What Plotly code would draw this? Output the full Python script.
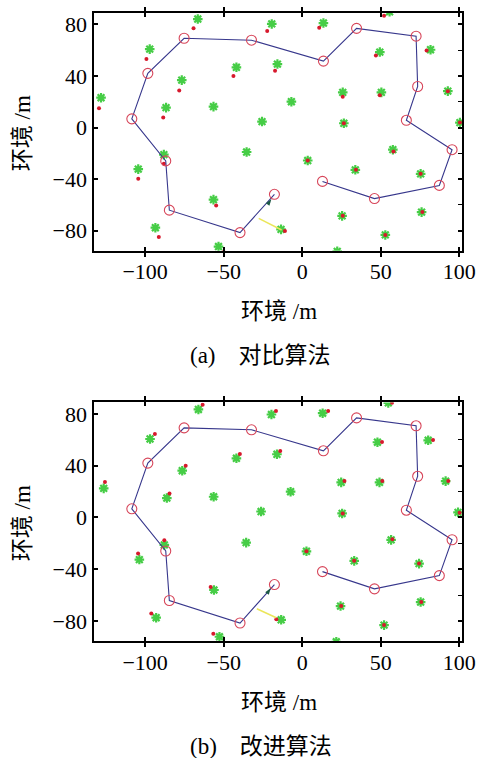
import plotly.graph_objects as go

W, H = 491, 758

# ---------------- data ----------------
route_x = [-17.7, -39.6, -84.6, -86.9, -108.5, -98.3, -75.2, -32.3, 13.5, 34.6, 72.5, 73.5, 66.3, 95.4, 87.3, 46.0, 12.9]
route_y = [-51.8, -81.5, -64.1, -25.9, 6.7, 42.0, 69.2, 67.7, 51.5, 76.9, 70.8, 31.8, 5.6, -17.2, -44.9, -55.1, -41.8]

a_green_x = [-66.5, -19.4, 13.5, 55.6, -97.1, 49.4, 81.7, -41.9, -15.8, -76.7, -128.1, 25.8, 50.4, 92.7, -86.7, -56.5, -6.9, -25.6,
             26.5, 100.4, -88.1, -35.4, 3.5, 57.7, -104.4, 33.8, 75.4, -56.5, -13.5, 25.4, 76.0, -93.5, -53.3, 52.9, 22.3]
a_green_y = [84.1, 80.3, 81.0, 89.7, 60.8, 58.5, 60.3, 46.7, 49.2, 36.7, 23.1, 27.2, 27.2, 28.2, 15.4, 16.2, 20.0, 4.6,
             3.3, 3.8, -21.0, -19.0, -25.6, -17.2, -32.3, -32.8, -35.9, -55.9, -79.0, -68.5, -65.6, -77.7, -92.3, -83.3, -96.0]
a_red_x = [-69.2, -22.3, 10.8, 52.1, -99.2, 46.9, 79.2, -43.8, -17.3, -78.3, -129.4, 25.8, 49.4, 92.7, -88.5, 26.5, 100.4,
           -88.1, -104.4, 3.5, 58.1, 34.2, 75.4, -54.8, -11.0, 25.8, 76.5, -91.3, 52.9, -50.0]
a_red_y = [76.9, 74.9, 77.4, 86.7, 53.1, 55.9, 59.7, 40.0, 44.1, 28.7, 14.9, 23.8, 25.1, 28.2, 7.7, 3.3, 3.8,
           -28.2, -39.7, -25.6, -18.7, -32.8, -35.9, -60.5, -80.3, -68.5, -65.6, -84.9, -83.3, -96.5]

b_green_x = [-66.1, -19.6, 13.0, 54.8, -96.9, 47.9, 80.2, -41.9, -16.1, -76.4, -126.4, 24.8, 49.2, 91.3, -86.2, -56.4, -7.4, -26.2,
             25.4, 99.2, -87.8, -35.7, 2.7, 56.6, -103.7, 33.1, 74.4, -56.2, -13.4, 24.4, 75.4, -93.0, -52.7, 52.1, 21.7]
b_green_y = [83.4, 79.5, 80.5, 88.5, 60.6, 58.1, 59.6, 45.7, 48.8, 36.1, 22.5, 27.1, 27.1, 28.1, 15.0, 16.0, 19.9, 4.6,
             3.1, 3.9, -21.2, -19.4, -26.1, -17.3, -32.5, -33.5, -35.6, -56.0, -79.0, -68.4, -65.3, -77.4, -92.1, -83.1, -96.0]
b_red_x = [-63.4, -16.7, 16.5, 57.2, -93.8, 50.8, 83.3, -39.7, -14.0, -74.2, -125.6, 26.9, 51.0, 93.0, -84.5, 25.8, 100.2,
           -87.8, -104.5, 2.7, 57.4, 33.1, 74.4, -58.3, -16.5, 24.8, 75.8, -96.1, 52.1, -56.6]
b_red_y = [87.0, 82.3, 82.3, 88.5, 64.5, 58.3, 59.9, 49.0, 51.4, 40.0, 27.4, 28.1, 28.1, 28.1, 18.6, 3.1, 3.6,
           -17.5, -27.9, -26.1, -16.8, -33.5, -35.6, -53.7, -78.5, -68.4, -65.3, -74.1, -83.1, -89.8]

a_yellow_x = [-27.7, -13.1]
a_yellow_y = [-70.5, -79.5]
b_yellow_x = [-28.9, -16.5]
b_yellow_y = [-70.5, -77.4]
a_arrow = (-19.6, -55.5)
b_arrow = (-20.0, -54.5)

x_ticks = [-100, -50, 0, 50, 100]
y_ticks = [-80, -40, 0, 40, 80]
x_range = [-132.3, 102.0]
y_range = [-95.5, 88.8]

axis_title = "环境 /m"
captions = ["(a)&nbsp;&nbsp;&nbsp;&nbsp;对比算法", "(b)&nbsp;&nbsp;&nbsp;&nbsp;改进算法"]

# ---------------- styling ----------------
GREEN = "rgb(70,205,70)"
RED = "rgb(215,25,45)"
NAVY = "rgb(55,55,140)"
CIRC = "rgb(215,70,90)"
NUMFONT = "Liberation Serif"
TXTFONT = "Liberation Serif, Noto Sans CJK SC"

# pixel geometry in page coordinates
L, R = 97, 475
panels = [(12, 250), (402, 641)]


def fx(px):
    return px / W


def fy(py):
    return 1 - py / H


fig = go.Figure()

panel_data = [
    (a_green_x, a_green_y, a_red_x, a_red_y, a_yellow_x, a_yellow_y, a_arrow),
    (b_green_x, b_green_y, b_red_x, b_red_y, b_yellow_x, b_yellow_y, b_arrow),
]

for i, (gx, gy, rx, ry, yx, yy, arr) in enumerate(panel_data):
    xa = "x" if i == 0 else "x2"
    ya = "y" if i == 0 else "y2"
    fig.add_trace(go.Scatter(x=gx, y=gy, mode="markers", xaxis=xa, yaxis=ya,
                             marker=dict(symbol="asterisk-open", size=8, color=GREEN,
                                         line=dict(color=GREEN, width=2.2)),
                             showlegend=False))
    fig.add_trace(go.Scatter(x=rx, y=ry, mode="markers", xaxis=xa, yaxis=ya,
                             marker=dict(symbol="circle", size=4, color=RED),
                             showlegend=False))
    fig.add_trace(go.Scatter(x=yx, y=yy, mode="lines", xaxis=xa, yaxis=ya,
                             line=dict(color="rgb(235,230,90)", width=1.5), showlegend=False))
    fig.add_trace(go.Scatter(x=route_x, y=route_y, mode="lines+markers", xaxis=xa, yaxis=ya,
                             line=dict(color=NAVY, width=1.1),
                             marker=dict(symbol="circle-open", size=10, color=CIRC,
                                         line=dict(color=CIRC, width=1.1)),
                             showlegend=False))
    fig.add_trace(go.Scatter(x=[arr[0]], y=[arr[1]], mode="markers", xaxis=xa, yaxis=ya,
                             marker=dict(symbol="arrow", size=7, angle=35, color="rgb(30,90,70)"),
                             showlegend=False))
    fig.add_trace(go.Scatter(x=[0], y=[0], mode="markers", xaxis=xa,
                             yaxis="y3" if i == 0 else "y4",
                             marker=dict(opacity=0), showlegend=False, hoverinfo="skip"))

common_x = dict(range=x_range, tickvals=x_ticks, ticks="inside", ticklen=4, tickwidth=1.5,
                tickcolor="black", showline=True, linecolor="black", linewidth=2,
                mirror="allticks", showgrid=False, zeroline=False,
                tickfont=dict(family=NUMFONT, size=22, color="black"),
                ticklabelstandoff=0)
common_y = dict(range=y_range, tickvals=y_ticks, ticks="inside", ticklen=4, tickwidth=1.5,
                tickcolor="black", showline=True, linecolor="black", linewidth=2,
                mirror="ticks", showgrid=False, zeroline=False,
                tickfont=dict(family=NUMFONT, size=22, color="black"),
                ticklabelstandoff=1)

xdom = [fx(L), fx(R)]
(t1, b1), (t2, b2) = panels
ydom1 = [fy(b1), fy(t1)]
ydom2 = [fy(b2), fy(t2)]

minor_y = dict(range=y_range, dtick=20, tick0=0, ticks="inside", ticklen=4, tickwidth=1.2,
               tickcolor="black", showticklabels=False, showgrid=False, zeroline=False,
               side="right", showline=False)

fig.update_layout(
    width=W, height=H, autosize=False,
    margin=dict(l=0, r=0, t=0, b=0),
    paper_bgcolor="white", plot_bgcolor="white",
    xaxis=dict(domain=xdom, anchor="y", **common_x),
    yaxis=dict(domain=ydom1, anchor="x", **common_y),
    xaxis2=dict(domain=xdom, anchor="y2", **common_x),
    yaxis2=dict(domain=ydom2, anchor="x2", **common_y),
    yaxis3=dict(overlaying="y", anchor="x", **minor_y),
    yaxis4=dict(overlaying="y2", anchor="x2", **minor_y),
)

ann = []
for i, (top, bot) in enumerate(panels):
    mid = (top + bot) / 2
    ann.append(dict(text=axis_title, x=fx(23), y=fy(mid + 1), xref="paper", yref="paper",
                    textangle=-90, showarrow=False, xanchor="center", yanchor="middle",
                    font=dict(family=TXTFONT, size=23, color="black")))
    ann.append(dict(text=axis_title, x=fx(287), y=fy(bot + 61), xref="paper", yref="paper",
                    showarrow=False, xanchor="center", yanchor="middle",
                    font=dict(family=TXTFONT, size=23, color="black")))
    ann.append(dict(text=captions[i], x=fx(268), y=fy(bot + 105), xref="paper", yref="paper",
                    showarrow=False, xanchor="center", yanchor="middle",
                    font=dict(family=TXTFONT, size=23, color="black")))
fig.update_layout(annotations=ann)

fig.write_html("out.html", config={"displayModeBar": False},
               post_script="document.body.style.margin='0';document.body.style.overflow='hidden';")
